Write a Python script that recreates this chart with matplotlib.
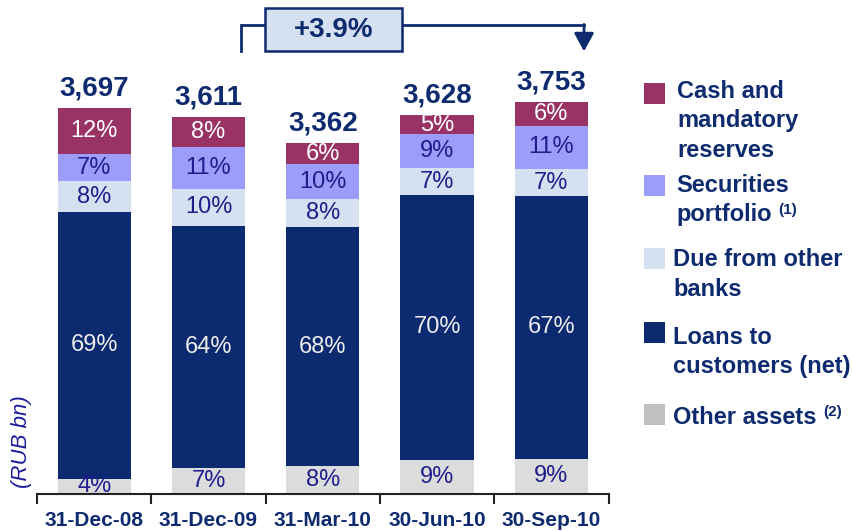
import numpy as np
import matplotlib
matplotlib.use("Agg")
import matplotlib.pyplot as plt
from matplotlib.patches import Rectangle

plt.rcParams['font.family'] = ['Liberation Sans', 'DejaVu Sans']

# data
dates = ['31-Dec-08', '31-Dec-09', '31-Mar-10', '30-Jun-10', '30-Sep-10']
totals = [3697, 3611, 3362, 3628, 3753]
# shares in % from bottom to top
other_pct = [4, 7, 8, 9, 9]
loans_pct = [69, 64, 68, 70, 67]
due_pct = [8, 10, 8, 7, 7]
secur_pct = [7, 11, 10, 9, 11]
cash_pct = [12, 8, 6, 5, 6]
growth_label = '+3.9%'

series = [other_pct, loans_pct, due_pct, secur_pct, cash_pct]
colors = ['#DCDCDC', '#0C2A70', '#D5E1F0', '#9C9CFA', '#993366']
txt_colors = ['#1E1E8C', '#EDEDED', '#1E1E8C', '#1E1E8C', 'white']
legend_names = [['Cash and', 'mandatory', 'reserves'],
                ['Securities', 'portfolio'],
                ['Due from other', 'banks'],
                ['Loans to', 'customers (net)'],
                ['Other assets']]
legend_sup = ['', '(1)', '', '', '(2)']
legend_colors = ['#993366', '#9C9CFA', '#D5E1F0', '#0C2A70', '#C0C0C0']

navy = '#0D2B6E'
W, H = 854, 531

fig = plt.figure(figsize=(W / 100, H / 100), dpi=100)
px_per_unit = 0.1044
ax = fig.add_axes([37 / W, (H - 494) / H, 571.5 / W, 494 / H])
ax.set_xlim(-0.5, 4.5)
ax.set_ylim(0, 494 / px_per_unit)

x = np.arange(len(dates))
tot = np.array(totals, dtype=float)
bottom = np.zeros(len(dates))
for vals, col, tc in zip(series, colors, txt_colors):
    h = tot * np.array(vals) / 100.0
    ax.bar(x, h, bottom=bottom, width=0.64, color=col, edgecolor='none', zorder=2)
    for i in range(len(dates)):
        ax.text(x[i], bottom[i] + h[i] / 2, f'{vals[i]}%', ha='center', va='center',
                fontsize=17, color=tc, zorder=5)
    bottom += h

for i, t in enumerate(totals):
    ax.text(x[i], t + 120, f'{t:,}', ha='center', va='baseline', fontsize=20,
            fontweight='bold', color=navy)

# growth bracket
xl, xr = 1.285, 4.286
y_lo, y_hi = 4240, 4490
ax.plot([xl, xl, xr], [y_lo, y_hi, y_hi], color=navy, lw=2, clip_on=False,
        solid_joinstyle='miter')
ax.annotate('', xy=(xr, y_lo), xytext=(xr, y_hi + 8), annotation_clip=False,
            arrowprops=dict(arrowstyle='-|>,head_length=0.55,head_width=0.3',
                            mutation_scale=20, color=navy, lw=2,
                            shrinkA=0, shrinkB=0))
ax.add_patch(Rectangle((1.495, 4245), 1.198, 410, facecolor='#D5E1F0', edgecolor=navy,
                       lw=1.8, clip_on=False, zorder=3))
ax.text(2.094, 4448, growth_label, ha='center', va='center', fontsize=20,
        fontweight='bold', color=navy, zorder=4)

# axes styling
for s in ['top', 'right', 'left']:
    ax.spines[s].set_visible(False)
ax.spines['bottom'].set_color('#222222')
ax.spines['bottom'].set_linewidth(1.5)
ax.set_yticks([])
ax.set_xticks(x)
ax.set_xticklabels(dates, fontsize=15, fontweight='bold', color=navy)
ax.tick_params(axis='x', which='major', length=0, pad=12)
ax.set_xticks(np.arange(-0.5, 5, 1), minor=True)
ax.tick_params(axis='x', which='minor', length=7, width=1.5, color='#222222',
               direction='out')

fig.text(22 / W, 1 - 442 / H, '(RUB bn)', rotation=90, ha='center', va='center',
         fontsize=16, style='italic', color='#1E1E9C')

# legend
first_y = [92, 186, 260, 338, 417]
sq_top = [83, 175, 248, 322, 404]
text_x = [677, 676, 673, 673, 673]
renderer = fig.canvas.get_renderer()
for k, lines in enumerate(legend_names):
    fig.patches.append(Rectangle((644 / W, 1 - (sq_top[k] + 21) / H), 21 / W, 21 / H,
                                 transform=fig.transFigure, facecolor=legend_colors[k],
                                 edgecolor='none'))
    last = None
    for j, ln in enumerate(lines):
        yy = first_y[k] + 29 * j
        last = fig.text(text_x[k] / W, 1 - yy / H, ln, ha='left', va='center',
                        fontsize=17, fontweight='bold', color=navy)
    if legend_sup[k]:
        bb = last.get_window_extent(renderer=renderer)
        fig.text((bb.x1 + 7) / W, 1 - (yy - 5) / H, legend_sup[k], ha='left',
                 va='center', fontsize=11, fontweight='bold', color=navy)

fig.savefig('out.png', dpi=100)
